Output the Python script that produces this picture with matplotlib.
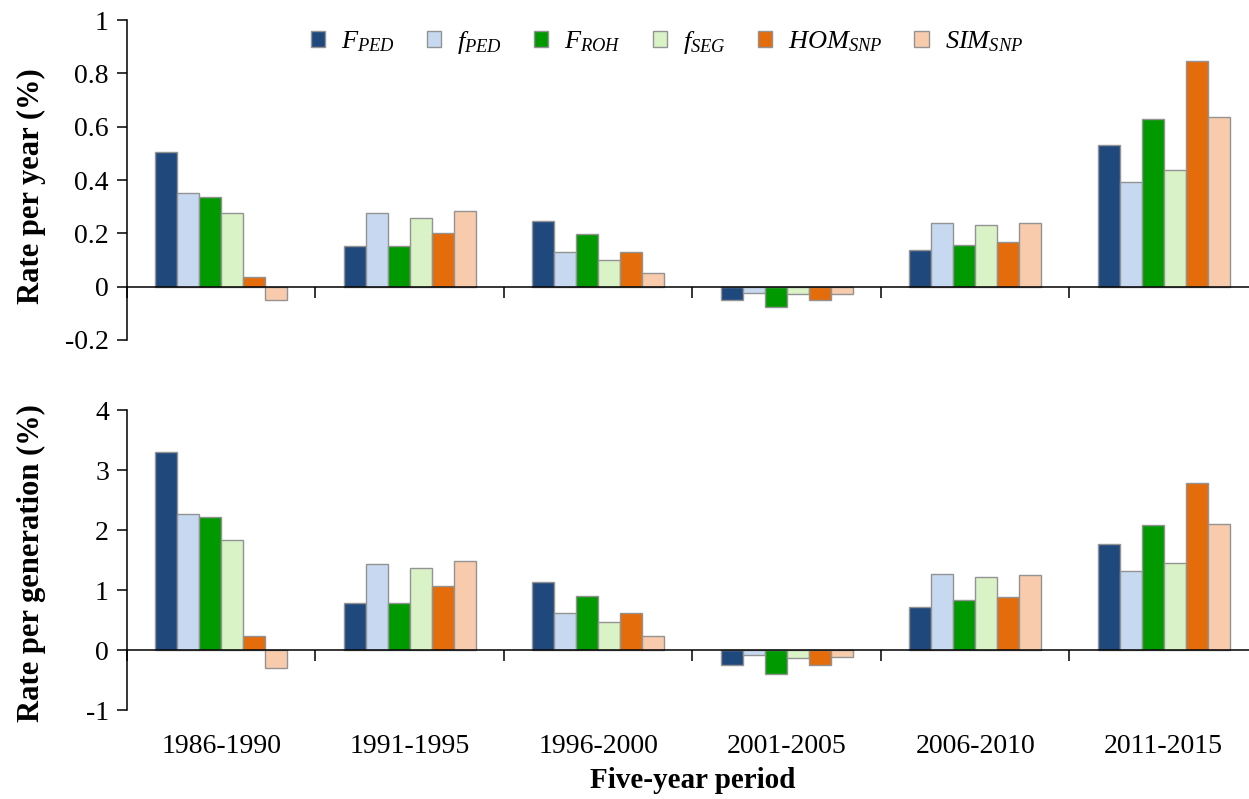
import matplotlib.pyplot as plt
import numpy as np

plt.rcParams["font.family"] = ["Liberation Serif", "DejaVu Serif"]
plt.rcParams["mathtext.fontset"] = "custom"
plt.rcParams["mathtext.rm"] = "Liberation Serif"
plt.rcParams["mathtext.it"] = "Liberation Serif:italic"
plt.rcParams["mathtext.bf"] = "Liberation Serif:bold"

periods = ["1986-1990", "1991-1995", "1996-2000", "2001-2005", "2006-2010", "2011-2015"]
series = [r"$F_{PED}$", r"$f_{PED}$", r"$F_{ROH}$", r"$f_{SEG}$", r"$HOM_{SNP}$", r"$SIM_{SNP}$"]
colors = ["#1F497D", "#C6D9F1", "#009900", "#D9F2C6", "#E46C0A", "#F8CBAD"]

# rate per year (%), one list per series, ordered by period
year_fped = [0.506, 0.151, 0.248, -0.051, 0.136, 0.532]
year_fped_s = [0.352, 0.278, 0.131, -0.022, 0.237, 0.394]
year_froh = [0.338, 0.151, 0.197, -0.078, 0.156, 0.628]
year_fseg = [0.278, 0.257, 0.100, -0.026, 0.232, 0.436]
year_hom = [0.035, 0.203, 0.131, -0.051, 0.166, 0.846]
year_sim = [-0.051, 0.283, 0.050, -0.026, 0.237, 0.638]

# rate per generation (%)
gen_fped = [3.30, 0.79, 1.13, -0.245, 0.72, 1.77]
gen_fped_s = [2.26, 1.44, 0.61, -0.08, 1.27, 1.31]
gen_froh = [2.21, 0.79, 0.90, -0.40, 0.83, 2.08]
gen_fseg = [1.84, 1.36, 0.47, -0.13, 1.22, 1.45]
gen_hom = [0.24, 1.06, 0.61, -0.245, 0.88, 2.78]
gen_sim = [-0.30, 1.49, 0.23, -0.11, 1.25, 2.10]

year_data = [year_fped, year_fped_s, year_froh, year_fseg, year_hom, year_sim]
gen_data = [gen_fped, gen_fped_s, gen_froh, gen_fseg, gen_hom, gen_sim]

year_ticks = [-0.2, 0, 0.2, 0.4, 0.6, 0.8, 1]
gen_ticks = [-1, 0, 1, 2, 3, 4]

W, H = 1249, 799
fig = plt.figure(figsize=(W / 100, H / 100), dpi=100)
left = 127 / W
width = 1131 / W
ax1 = fig.add_axes([left, (H - 340) / H, width, 320 / H])
ax2 = fig.add_axes([left, (H - 710) / H, width, 300 / H])

x = np.arange(len(periods))
bw = 0.117


def draw_panel(ax, data, ticks, ylabel, label_y):
    handles = []
    for i, vals in enumerate(data):
        off = (i - 2.5) * bw
        h = ax.bar(x + off, vals, bw, color=colors[i], edgecolor="#939393",
                   linewidth=1.0, zorder=2)
        handles.append(h)
    ax.set_xlim(-0.5, len(periods) - 0.5)
    ax.set_ylim(ticks[0], ticks[-1])
    ax.set_yticks(ticks)
    ax.set_yticklabels([f"{t:g}" for t in ticks], fontsize=20)
    ax.tick_params(axis="y", direction="out", length=7, width=1.1, pad=6)
    for s in ["top", "right"]:
        ax.spines[s].set_visible(False)
    ax.spines["left"].set_linewidth(1.1)
    ax.spines["bottom"].set_position(("data", 0))
    ax.spines["bottom"].set_linewidth(1.1)
    ax.spines["bottom"].set_zorder(3)
    ax.set_xticks(np.arange(len(periods) + 1) - 0.5)
    ax.set_xticklabels([])
    ax.tick_params(axis="x", direction="out", length=8, width=1.1)
    ax.set_ylabel(ylabel, fontsize=22, fontweight="bold")
    ax.yaxis.set_label_coords(-0.072, label_y)
    return handles


handles = draw_panel(ax1, year_data, year_ticks, "Rate per year (%)", 0.48)
draw_panel(ax2, gen_data, gen_ticks, "Rate per generation (%)", 0.49)

for i, p in enumerate(periods):
    ax2.text(i, -0.08, p, transform=ax2.get_xaxis_transform(),
             ha="center", va="top", fontsize=20)
ax2.text(0.5 * (len(periods) - 1), -0.19, "Five-year period",
         transform=ax2.get_xaxis_transform(), ha="center", va="top",
         fontsize=21, fontweight="bold")

fig.legend(handles, series, loc="center", bbox_to_anchor=(667 / W, (H - 42) / H),
           ncol=6, frameon=False, fontsize=19, handlelength=0.55, handleheight=0.55,
           handletextpad=0.6, columnspacing=1.2)

fig.savefig("out.png", dpi=100)
